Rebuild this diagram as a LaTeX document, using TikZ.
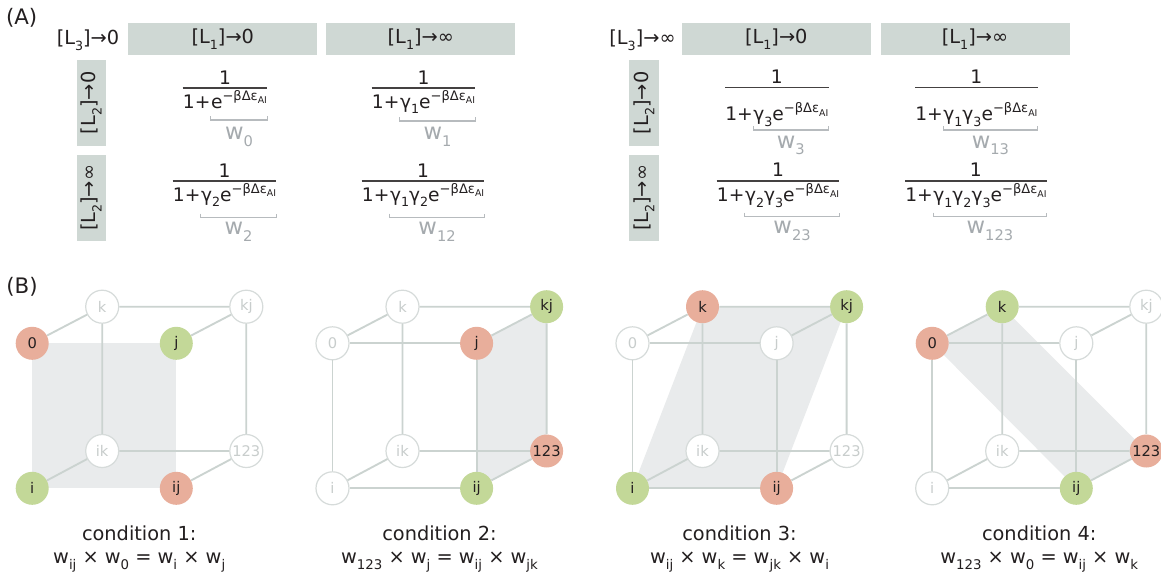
\documentclass[tikz,border=0pt]{standalone}
\usepackage{fontspec}
\setmainfont{DejaVu Sans}
\usetikzlibrary{calc}
\pgfdeclarelayer{bg}
\pgfsetlayers{bg,main}
\definecolor{hdr}{RGB}{207,216,212}
\definecolor{shadec}{RGB}{233,235,236}
\definecolor{edgec}{RGB}{203,211,208}
\definecolor{nodeln}{RGB}{214,219,218}
\definecolor{nodetx}{RGB}{200,205,204}
\definecolor{redn}{RGB}{232,174,155}
\definecolor{grnn}{RGB}{195,216,152}
\definecolor{wgray}{RGB}{165,170,174}
\definecolor{ink}{RGB}{35,31,32}
\newcommand{\fsz}[1]{\fontsize{#1}{#1}\selectfont}
\newcommand{\lowsub}[2][9.5]{\raisebox{-0.3em}{\fsz{#1}#2}}
\newcommand{\expt}{e\raisebox{0.42em}{\fsz{9.8}−βΔε\raisebox{-0.28em}{\fsz{7}AI}}}
\newcommand{\denf}{\fsz{14}}
\tikzset{
  hbox/.style={fill=hdr, minimum width=141.75pt, minimum height=24pt, inner sep=0pt, font=\fsz{14.5}, text=ink},
  vbox/.style={fill=hdr, rotate=90, minimum width=64.3pt, minimum height=22pt, inner sep=0pt, font=\fsz{14.5}, text=ink},
  plaintxt/.style={inner sep=0pt, font=\fsz{14.5}, text=ink},
  dtx/.style={inner sep=0pt, font=\denf, text=ink},
  fbar/.style={draw=ink!85, line width=1.1pt},
  brk/.style={draw=wgray!80, line width=0.8pt},
  wlab/.style={inner sep=0pt, font=\fsz{17}, text=wgray},
  vtx/.style={circle, minimum size=24.75pt, inner sep=0pt, font=\fsz{11}},
  vemp/.style={draw=nodeln, line width=0.9pt, fill=white, text=nodetx},
  vred/.style={fill=redn, text=ink},
  vgrn/.style={fill=grnn, text=ink},
  cubeedge/.style={draw=edgec, line width=1.4pt},
  captxt/.style={inner sep=0pt, font=\fsz{14.5}, text=ink},
}
\newcommand{\resetv}{\tikzset{v0/.style=vemp, vj/.style=vemp, vi/.style=vemp, vij/.style=vemp, vk/.style=vemp, vkj/.style=vemp, vik/.style=vemp, vt/.style=vemp}}
% #1 name, #2 left x, #3 numerator baseline, #4 bar y, #5 denominator baseline,
% #6 bracketed part, #7 bracket y, #8 w label, #9 w baseline
\newcommand{\fraccell}[9]{%
  \node[dtx, anchor=base west] (#1a) at (#2,#5) {1+};
  \node[dtx, anchor=base west] (#1b) at (#1a.base east) {#6};
  \coordinate (#1c) at ($(#1a.west)!0.5!(#1b.east)$);
  \draw[fbar] (#1a.west |- 0,#4) -- (#1b.east |- 0,#4);
  \node[dtx, anchor=base] (#1n) at (#1c |- 0,#3) {1};
  \draw[brk] ($(#1b.west |- 0,#7)+(0,-4)$) -- (#1b.west |- 0,#7) -- (#1b.east |- 0,#7) -- ++(0,-4);
  \coordinate (#1m) at ($(#1b.west |- 0,#9)!0.5!(#1b.east |- 0,#9)$);
  \node[wlab, anchor=base] (#1w) at (#1m) {#8};
}
\newcommand{\cubeverts}[2]{%
  \node[vtx,v0] (#1-0) at (32.2+#2,343.3) {0};
  \node[vtx,vj] (#1-j) at (176.3+#2,343.3) {j};
  \node[vtx,vi] (#1-i) at (32.2+#2,488.3) {i};
  \node[vtx,vij] (#1-ij) at (176.3+#2,488.3) {ij};
  \node[vtx,vk] (#1-k) at (102.2+#2,306.7) {k};
  \node[vtx,vkj] (#1-kj) at (246.3+#2,306.7) {kj};
  \node[vtx,vik] (#1-ik) at (102.2+#2,451) {ik};
  \node[vtx,vt] (#1-123) at (246.3+#2,451) {123};
}
\newcommand{\backedges}[1]{\draw[cubeedge] (#1-k) -- (#1-kj) (#1-k) -- (#1-ik) (#1-kj) -- (#1-123) (#1-ik) -- (#1-123) (#1-0) -- (#1-k) (#1-j) -- (#1-kj) (#1-i) -- (#1-ik) (#1-ij) -- (#1-123);}
\newcommand{\frontedges}[1]{\draw[cubeedge] (#1-0) -- (#1-j) (#1-0) -- (#1-i) (#1-j) -- (#1-ij) (#1-i) -- (#1-ij);}
\begin{document}
\begin{tikzpicture}[x=0.75pt,y=-0.75pt]
\begin{pgfonlayer}{bg}
\fill[white] (0,0) rectangle (1161,576);
\end{pgfonlayer}
\useasboundingbox (0,0) rectangle (1161,576);

% ---------- Part A ----------
\node[plaintxt, font=\fsz{16}] (labA) at (21.7,17.5) {(A)};
\node[plaintxt] (l3a) at (88,40) {[L\lowsub{3}]→0};
\node[hbox] (h1) at (222.8,39.3) {[L\lowsub{1}]→0};
\node[hbox] (h2) at (420.8,39.3) {[L\lowsub{1}]→∞};
\node[vbox] (r1) at (91.3,102.8) {[L\lowsub{2}]→0};
\node[vbox] (r2) at (91.3,197.8) {[L\lowsub{2}]→∞};

\node[plaintxt] (l3b) at (642.5,40) {[L\lowsub{3}]→∞};
\node[hbox] (h3) at (776.3,39.3) {[L\lowsub{1}]→0};
\node[hbox] (h4) at (975,39.3) {[L\lowsub{1}]→∞};
\node[vbox] (r3) at (644,102.8) {[L\lowsub{2}]→0};
\node[vbox] (r4) at (644,197.8) {[L\lowsub{2}]→∞};

\fraccell{LA}{182.7}{84}{87.8}{108}{\expt}{120}{w\lowsub[11]{0}}{139.5}
\fraccell{LB}{371.7}{84}{87.8}{108}{γ\lowsub{1}\expt}{121}{w\lowsub[11]{1}}{139.5}
\fraccell{LC}{172.7}{177}{180.8}{201}{γ\lowsub{2}\expt}{217.5}{w\lowsub[11]{2}}{234.5}
\fraccell{LD}{361.7}{177}{180.8}{201}{γ\lowsub{1}γ\lowsub{2}\expt}{217.5}{w\lowsub[11]{12}}{234.5}
\fraccell{RA}{725}{83.5}{87.5}{120.5}{γ\lowsub{3}\expt}{130}{w\lowsub[11]{3}}{148}
\fraccell{RB}{915}{83.5}{87.5}{120.5}{γ\lowsub{1}γ\lowsub{3}\expt}{130}{w\lowsub[11]{13}}{148}
\fraccell{RC}{716.7}{176.5}{181}{201.5}{γ\lowsub{2}γ\lowsub{3}\expt}{216.5}{w\lowsub[11]{23}}{233.5}
\fraccell{RD}{905}{176.5}{181}{201.5}{γ\lowsub{1}γ\lowsub{2}γ\lowsub{3}\expt}{216.5}{w\lowsub[11]{123}}{233.5}

% ---------- Part B ----------
\node[plaintxt, font=\fsz{16}] (labB) at (22,287) {(B)};

% cube 1
\resetv
\tikzset{v0/.style=vred, vj/.style=vgrn, vi/.style=vgrn, vij/.style=vred}
\cubeverts{c1}{0}
\backedges{c1}
\begin{pgfonlayer}{bg}
\fill[shadec] (c1-0.center) -- (c1-j.center) -- (c1-ij.center) -- (c1-i.center) -- cycle;
\end{pgfonlayer}
\node[captxt, anchor=base] (t1) at (139.2,540.7) {condition 1:};
\node[captxt, anchor=base] (f1) at (139.2,563.3) {w\lowsub[10]{ij} × w\lowsub[10]{0} = w\lowsub[10]{i} × w\lowsub[10]{j}};

% cube 2
\resetv
\tikzset{vj/.style=vred, vkj/.style=vgrn, vt/.style=vred, vij/.style=vgrn}
\cubeverts{c2}{300.3}
\backedges{c2}
\frontedges{c2}
\begin{pgfonlayer}{bg}
\fill[shadec] (c2-j.center) -- (c2-kj.center) -- (c2-123.center) -- (c2-ij.center) -- cycle;
\end{pgfonlayer}
\node[captxt, anchor=base] (t2) at (439.5,540.7) {condition 2:};
\node[captxt, anchor=base] (f2) at (439.5,563.3) {w\lowsub[10]{123} × w\lowsub[10]{j} = w\lowsub[10]{ij} × w\lowsub[10]{jk}};

% cube 3
\resetv
\tikzset{vk/.style=vred, vkj/.style=vgrn, vi/.style=vgrn, vij/.style=vred}
\cubeverts{c3}{600.3}
\backedges{c3}
\frontedges{c3}
\begin{pgfonlayer}{bg}
\fill[shadec] (c3-i.center) -- (c3-k.center) -- (c3-kj.center) -- (c3-ij.center) -- cycle;
\end{pgfonlayer}
\node[captxt, anchor=base] (t3) at (739.5,540.7) {condition 3:};
\node[captxt, anchor=base] (f3) at (739.5,563.3) {w\lowsub[10]{ij} × w\lowsub[10]{k} = w\lowsub[10]{jk} × w\lowsub[10]{i}};

% cube 4
\resetv
\tikzset{v0/.style=vred, vk/.style=vgrn, vt/.style=vred, vij/.style=vgrn}
\cubeverts{c4}{900}
\backedges{c4}
\frontedges{c4}
\begin{pgfonlayer}{bg}
\fill[shadec] (c4-0.center) -- (c4-k.center) -- (c4-123.center) -- (c4-ij.center) -- cycle;
\end{pgfonlayer}
\node[captxt, anchor=base] (t4) at (1039.2,540.7) {condition 4:};
\node[captxt, anchor=base] (f4) at (1039.2,563.3) {w\lowsub[10]{123} × w\lowsub[10]{0} = w\lowsub[10]{ij} × w\lowsub[10]{k}};
\end{tikzpicture}
\end{document}
